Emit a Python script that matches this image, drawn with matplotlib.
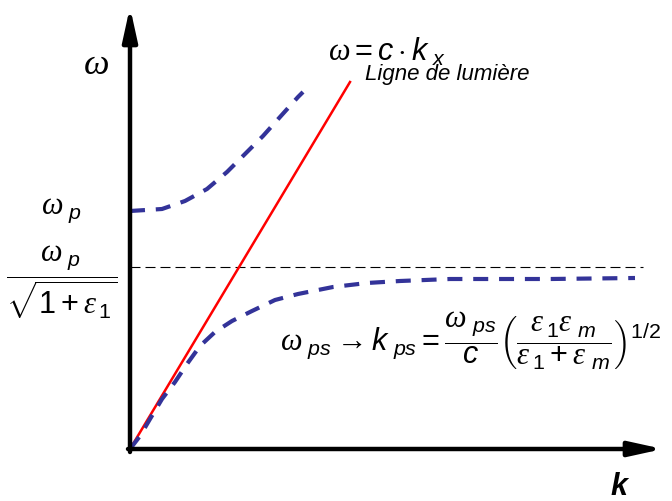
import matplotlib.pyplot as plt

plt.rcParams['mathtext.fontset'] = 'custom'
plt.rcParams['mathtext.rm'] = 'Liberation Sans'
plt.rcParams['mathtext.it'] = 'Liberation Sans:italic'
plt.rcParams['mathtext.bf'] = 'Liberation Sans:bold:italic'
plt.rcParams['mathtext.cal'] = 'Liberation Serif:italic'
plt.rcParams['font.family'] = 'Liberation Sans'

# schematic dispersion curves (k, omega), arbitrary units
upper_k = [0, 0.32, 0.55, 0.77, 0.97, 1.15, 1.33, 1.50, 1.68, 1.73]
upper_w = [2.38, 2.40, 2.48, 2.60, 2.77, 2.95, 3.13, 3.32, 3.52, 3.57]

lower_k = [0, 0.10, 0.20, 0.32, 0.45, 0.57, 0.70, 0.85, 1.02, 1.22, 1.45,
           1.68, 1.88, 2.03, 2.37, 2.70, 3.20, 3.70, 4.20, 5.05]
lower_w = [0, 0.13, 0.30, 0.50, 0.67, 0.85, 1.03, 1.17, 1.28, 1.38, 1.49,
           1.55, 1.59, 1.62, 1.66, 1.68, 1.70, 1.70, 1.70, 1.71]

light_k = [0, 2.20]
light_w = [0, 3.67]

w_sp = 1.82          # omega_p / sqrt(1 + eps1)
k_max = 5.13

W = r'\mathcal{\omega}'
E = r'\mathcal{\varepsilon}'

fig = plt.figure(figsize=(6.72, 5.02), dpi=100)
ax = fig.add_axes([0, 0, 1, 1])
ax.set_xlim(-1.30, 5.42)
ax.set_ylim(-0.52, 4.50)
ax.axis('off')

# axes with arrows
arrow = dict(arrowstyle='-|>,head_length=1.0,head_width=0.22', lw=3.2,
             color='black', mutation_scale=20, shrinkA=0, shrinkB=0)
ax.annotate('', xy=(0, 4.42), xytext=(0, -0.03), arrowprops=arrow)
ax.annotate('', xy=(5.33, 0), xytext=(-0.02, 0), arrowprops=arrow)

ax.plot([0, k_max], [w_sp, w_sp], color='black', lw=0.8, dashes=(9, 4.5))
ax.plot(light_k, light_w, color='red', lw=1.8)
ax.plot(upper_k, upper_w, color='#333399', lw=3, dashes=(3.6, 2.6))
ax.plot(lower_k, lower_w, color='#333399', lw=3, dashes=(3.6, 2.6))

# labels
ax.text(-0.34, 3.85, '$' + W + '$', fontsize=26, ha='center', va='center')
ax.text(-0.69, 2.40, '$' + W + r'_{\ p}$', fontsize=22, ha='center', va='center')
ax.text(-0.68, 1.68, r'$\dfrac{' + W + r'_{\ p}}{\sqrt{1+' + E + r'_{\,1}}}$',
        fontsize=22, ha='center', va='center')
ax.text(4.90, -0.37, r'$\mathbf{k}$', fontsize=22, ha='center', va='center')
ax.text(1.98, 3.98, '$' + W + r' = c\cdot k_{\ x}$', fontsize=22, ha='left', va='center')
ax.text(2.35, 3.75, 'Ligne de lumière', fontsize=16, style='italic',
        ha='left', va='center')
ax.text(1.50, 1.09,
        '$' + W + r'_{\ ps} \rightarrow k_{\ ps} = \dfrac{' + W + r'_{\ ps}}{c}'
        r'\left(\dfrac{' + E + r'_{\,1}' + E + r'_{\ m}}{' + E + r'_{\,1}+' + E + r'_{\ m}}\right)^{1/2}$',
        fontsize=22, ha='left', va='center')

fig.savefig('out.png', dpi=100)
